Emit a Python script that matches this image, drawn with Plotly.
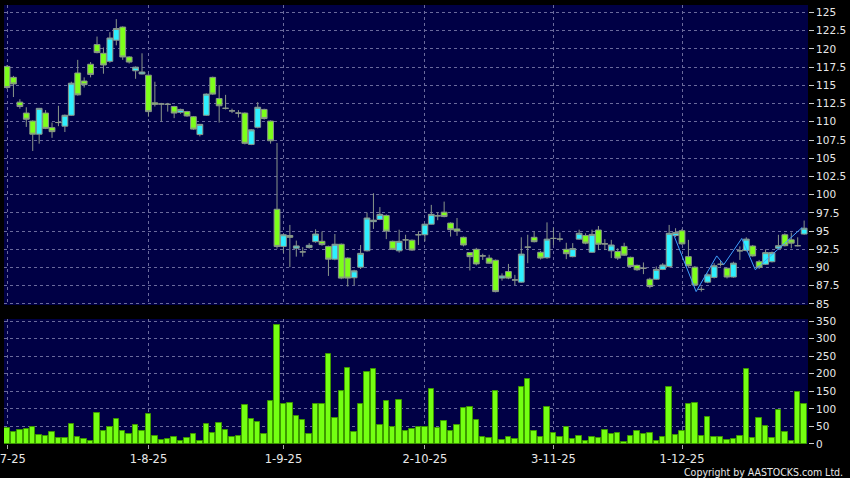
import plotly.graph_objects as go

# ---- data ----
OPEN = [117.6,116.1,112.7,111.2,110.1,108.3,111.2,109.2,109.9,109.4,
        110.9,116.7,115.6,117.9,120.6,119.4,118.3,121.2,123.0,118.9,
        117.0,116.56,116.4,112.6,112.45,112.4,112.1,111.3,111.4,110.7,
        108.25,110.9,116.1,113.2,111.85,111.5,111.2,111.2,106.9,109.25,
        111.7,110.1,98.0,92.9,94.4,92.65,92.15,92.75,93.55,93.6,
        92.9,91.15,93.2,91.3,88.6,90.05,92.3,96.3,96.6,97.15,
        93.6,92.3,93.8,93.75,94.5,94.5,95.95,97.1,97.6,96.1,
        95.3,94.15,92.05,92.5,91.6,91.3,91.0,88.55,89.45,88.3,
        88.0,92.8,94.15,92.1,91.35,94.0,93.9,92.5,91.5,93.9,
        94.4,92.1,95.15,93.25,92.3,92.2,92.9,91.4,90.3,89.9,
        88.4,88.4,89.75,90.15,94.4,95.05,91.5,90.05,87.0,88.0,
        88.65,90.45,89.9,88.7,92.3,92.35,92.95,90.8,90.45,90.8,
        92.65,94.5,93.8,93.0,94.6]
HIGH = [117.8,116.3,113.1,112.0,110.2,111.9,111.6,109.9,112.2,111.0,
        115.5,118.5,116.1,118.2,121.7,120.2,122.3,124.1,123.1,119.0,
        117.6,119.4,116.5,115.5,112.6,112.6,112.2,111.8,111.5,110.8,
        109.7,113.9,116.2,115.05,113.7,111.8,111.6,111.3,109.0,112.7,
        111.8,110.2,107.1,94.6,95.85,93.7,92.8,93.35,95.25,94.95,
        93.0,94.6,93.3,91.4,89.7,93.1,97.55,100.2,98.3,97.3,
        93.7,95.2,94.5,93.85,94.95,96.0,98.6,97.6,99.05,96.2,
        96.8,94.25,92.1,92.7,91.9,91.75,91.1,89.2,90.5,89.0,
        94.15,94.5,94.95,92.3,96.2,95.5,94.8,93.4,93.35,95.2,
        94.7,95.2,95.7,93.9,93.8,92.65,93.4,91.5,90.4,90.7,
        88.6,90.15,90.6,95.85,95.4,95.3,93.8,90.2,87.4,89.2,
        90.6,90.9,90.0,90.8,92.9,94.15,93.1,91.05,92.5,92.2,
        94.5,94.7,94.8,94.15,96.45]
LOW = [114.5,113.4,111.8,109.3,106.0,107.0,109.0,107.8,109.4,108.6,
       110.8,113.6,114.7,116.1,119.4,116.6,118.1,120.5,118.5,118.0,
       115.9,116.5,110.7,112.1,110.0,111.4,110.5,111.1,110.7,108.9,
       108.0,110.8,113.7,109.9,111.7,111.2,110.6,106.9,106.8,109.1,
       110.3,107.0,92.6,92.0,90.05,91.5,91.5,92.6,93.4,93.0,
       88.85,91.0,88.4,87.4,87.6,89.8,92.2,95.3,96.5,93.9,
       92.4,92.05,92.5,92.3,93.1,93.6,95.9,96.5,96.9,94.25,
       94.35,92.9,89.6,90.3,91.05,90.5,86.6,88.2,88.4,87.6,
       87.9,90.6,93.45,91.1,91.2,93.1,93.55,91.15,91.4,93.8,
       93.2,92.0,92.4,92.4,91.3,91.05,91.6,90.0,89.55,89.1,
       87.15,88.3,89.65,90.0,94.2,93.1,90.1,87.5,86.7,87.85,
       88.5,90.15,88.5,88.6,91.05,92.2,91.5,89.8,90.35,90.7,
       92.5,92.9,92.65,92.9,94.5]
CLOSE = [114.7,115.2,112.1,110.35,108.3,111.85,109.1,108.65,109.9,110.9,
         115.3,113.7,115.1,116.5,119.5,117.8,121.5,122.8,118.9,118.2,
         117.5,116.84,111.4,112.4,112.45,112.4,111.2,111.7,110.8,109.0,
         109.65,113.8,113.8,112.2,111.85,111.5,111.2,107.05,108.9,112.0,
         110.45,107.4,92.9,94.5,94.15,92.97,92.15,93.05,94.6,93.15,
         91.15,93.2,88.55,88.55,89.55,91.95,96.8,96.5,97.3,95.0,
         92.5,93.6,93.8,92.4,94.5,95.95,97.3,97.1,97.0,95.2,
         95.0,93.1,91.5,90.5,91.6,90.6,86.7,88.85,88.55,88.3,
         91.85,92.8,93.55,91.3,93.9,94.0,93.9,91.9,92.6,94.7,
         93.35,94.55,93.2,93.25,93.1,91.3,91.7,90.15,89.7,89.9,
         87.4,89.75,90.35,94.7,94.8,93.25,90.25,87.6,87.0,89.0,
         90.25,90.45,88.7,90.6,92.3,93.9,91.6,90.05,92.05,92.05,
         93.0,93.0,93.35,93.0,95.4]
VOLUME = [46.5,34,39,42,47,27,23,34,18,18,
          58,20,14,8,89,38,48,70,36,28,
          54,37,84,24,11,14,20,9.5,16,29,
          9.5,56,31,61,41,20,24,111,71,62,
          27.5,123,338,113,117,81,69,27.5,115,115,
          256,75,152,217,33,114,206,213,55,123,
          47,126,38,44,49,48,157,46.5,65,37,
          53,101.5,106,68,21,18,151,11,20,13,
          163,185,36,19,104,31,19,48,14,23,
          7.6,21,17,41,27.5,32,6.6,23,38,27.5,
          32,8.5,19,163,25,36,114,117,24,78,
          19,19,12,14,22,214,16,73,51,16,
          96,35,8.5,149,115]
LINE_X = [103.7,107.2,110.4,111.5,114.3,116.4,123.7]
LINE_Y = [94.5,86.7,91.6,90.4,94.0,89.7,95.5]
TICK_POS = [0,22,43,65,85,105]
TICK_LABELS = ["2-7-25","1-8-25","1-9-25","2-10-25","3-11-25","1-12-25"]
PRICE_TICKS = [85,87.5,90,92.5,95,97.5,100,102.5,105,107.5,110,112.5,115,117.5,120,122.5,125]
PRICE_TICK_TEXT = ["85","87.5","90","92.5","95","97.5","100","102.5","105","107.5",
                   "110","112.5","115","117.5","120","122.5","125"]
VOL_TICKS = [0,50,100,150,200,250,300,350]

idx = list(range(len(CLOSE)))

GREEN = "#7dff1a"
CYAN = "#2ef0ff"
EDGE = "#8a968a"
GRID = "#6a6a9c"
TXT = "#e8e8e8"
FONT = "DejaVu Sans, Liberation Sans, sans-serif"

fig = go.Figure()
fig.add_trace(go.Candlestick(
    x=idx, open=OPEN, high=HIGH, low=LOW, close=CLOSE,
    increasing=dict(fillcolor=CYAN, line=dict(color=EDGE, width=1)),
    decreasing=dict(fillcolor=GREEN, line=dict(color=EDGE, width=1)),
    whiskerwidth=0, xaxis="x", yaxis="y", showlegend=False, hoverinfo="skip"))
fig.add_trace(go.Scatter(x=LINE_X, y=LINE_Y, mode="lines",
                         line=dict(color="#3fa0ff", width=1),
                         xaxis="x", yaxis="y", showlegend=False, hoverinfo="skip"))
fig.add_trace(go.Bar(x=idx, y=VOLUME, width=0.85,
                     marker=dict(color="#74ff12", line=dict(color="#3d9900", width=1)),
                     xaxis="x2", yaxis="y2", showlegend=False, hoverinfo="skip"))

xr = [-0.47, 124.6]
common_x = dict(range=xr, tickvals=TICK_POS, showgrid=True, gridcolor=GRID,
                griddash="3px,3px", gridwidth=1, zeroline=False, showline=False,
                automargin=False)
fig.update_layout(
    width=850, height=478,
    paper_bgcolor="black", plot_bgcolor="#000045",
    margin=dict(l=4, r=42, t=5, b=34, autoexpand=False),
    boxgap=0.1, boxgroupgap=0,
    bargap=0,
    font=dict(family=FONT, size=11, color=TXT),
    xaxis=dict(domain=[0, 1], anchor="y", showticklabels=False, ticks="",
               rangeslider=dict(visible=False), **common_x),
    xaxis2=dict(domain=[0, 1], anchor="y2", ticktext=TICK_LABELS, ticks="outside",
                ticklen=4, tickcolor="#aaaaaa", ticklabeloverflow="allow",
                tickfont=dict(size=11.5, color=TXT, family=FONT), **common_x),
    yaxis=dict(domain=[0.3166, 1], anchor="x", side="right", range=[84.86, 126.03],
               tickvals=PRICE_TICKS, ticktext=PRICE_TICK_TEXT, ticks="outside",
               ticklen=5, tickcolor="#cccccc", showgrid=True, gridcolor=GRID,
               griddash="3px,3px", zeroline=False, showline=False, automargin=False,
               tickfont=dict(size=10.5, color=TXT, family=FONT)),
    yaxis2=dict(domain=[0, 0.2847], anchor="x2", side="right", range=[0, 355.7],
                tickvals=VOL_TICKS, ticks="outside", ticklen=5, tickcolor="#cccccc",
                showgrid=True, gridcolor=GRID, griddash="3px,3px", zeroline=False,
                showline=False, automargin=False,
                tickfont=dict(size=10.5, color=TXT, family=FONT)),
    annotations=[dict(text="Copyright by AASTOCKS.com Ltd.", xref="paper", yref="paper",
                      x=1.046, y=-0.063, xanchor="right", yanchor="middle",
                      showarrow=False,
                      font=dict(size=10.5, color=TXT,
                                family="DejaVu Sans Condensed, Liberation Sans Narrow, Liberation Sans"))],
)
fig.write_html("out.html", config={"displayModeBar": False},
               post_script="document.body.style.margin='0';document.body.style.background='black';")
